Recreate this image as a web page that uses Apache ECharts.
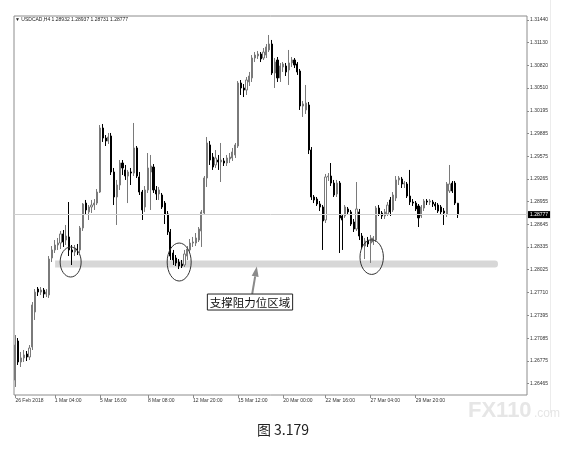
<!DOCTYPE html>
<html><head><meta charset="utf-8">
<script src="https://cdn.jsdelivr.net/npm/echarts@6/dist/echarts.min.js"></script>
<style>html,body{margin:0;padding:0;background:#fff}#c{width:587px;height:450px}</style>
</head><body><div id="c"></div>
<script>
const opens = [
1.26513,1.27047,1.26760,1.26815,1.26869,1.26828,1.26965,1.27444,1.27758,1.27717,
1.27745,1.27690,1.27677,1.28183,1.28293,1.28361,1.28388,1.28512,1.28429,1.28471,
1.28293,1.28265,1.28306,1.28293,1.28594,1.28935,1.28813,1.28881,1.28908,1.28935,
1.29086,1.29962,1.29825,1.29784,1.29853,1.29360,1.29018,1.29182,1.29483,1.29388,
1.29305,1.29360,1.29346,1.29689,1.29292,1.29086,1.28881,1.29114,1.29360,1.29428,
1.29114,1.29059,1.29045,1.28935,1.28785,1.28539,1.28251,1.28183,1.28128,1.28101,
1.28087,1.28210,1.28293,1.28388,1.28388,1.28429,1.28553,1.28799,1.29278,1.29730,
1.29565,1.29456,1.29524,1.29497,1.29511,1.29483,1.29538,1.29552,1.29593,1.29716,
1.30578,1.30510,1.30482,1.30592,1.30647,1.30920,1.30948,1.30975,1.30920,1.30961,
1.31030,1.31112,1.30715,1.30893,1.30647,1.30797,1.30811,1.30756,1.30852,1.30893,
1.30838,1.30742,1.30263,1.30209,1.30277,1.29661,1.29018,1.28990,1.28922,1.28881,
1.28703,1.29292,1.29305,1.29209,1.29059,1.29209,1.28758,1.28758,1.28854,1.28813,
1.28676,1.28580,1.28813,1.28484,1.28347,1.28429,1.28388,1.28402,1.28429,1.28867,
1.28799,1.28758,1.28785,1.28977,1.28840,1.29004,1.29251,1.29264,1.29196,1.29196,
1.29031,1.28949,1.28935,1.28895,1.28758,1.28867,1.28963,1.28949,1.28949,1.28922,
1.28908,1.28881,1.28826,1.28785,1.29100,1.29209,1.29209,1.28932];
const closes = [
1.26992,1.26760,1.26815,1.26856,1.26828,1.26951,1.27540,1.27717,1.27717,1.27745,
1.27690,1.27717,1.28169,1.28293,1.28361,1.28388,1.28512,1.28402,1.28484,1.28293,
1.28265,1.28320,1.28293,1.28594,1.28922,1.28840,1.28881,1.28908,1.28935,1.29086,
1.29962,1.29825,1.29784,1.29839,1.29360,1.29018,1.29182,1.29483,1.29415,1.29305,
1.29360,1.29346,1.29689,1.29305,1.29086,1.28840,1.29114,1.29415,1.29442,1.29114,
1.29059,1.29114,1.28881,1.28785,1.28539,1.28210,1.28156,1.28115,1.28074,1.28074,
1.28238,1.28306,1.28388,1.28402,1.28457,1.28580,1.28813,1.29278,1.29757,1.29524,
1.29428,1.29552,1.29497,1.29524,1.29483,1.29552,1.29565,1.29634,1.29730,1.30578,
1.30510,1.30482,1.30619,1.30674,1.30920,1.30961,1.30975,1.30907,1.31002,1.31071,
1.31112,1.30715,1.30865,1.30647,1.30811,1.30838,1.30729,1.30852,1.30893,1.30824,
1.30729,1.30263,1.30291,1.30304,1.29661,1.29018,1.28977,1.28922,1.28881,1.28690,
1.29292,1.29305,1.29209,1.29045,1.29209,1.28731,1.28703,1.28881,1.28813,1.28648,
1.28580,1.28854,1.28484,1.28347,1.28416,1.28375,1.28457,1.28457,1.28867,1.28785,
1.28758,1.28813,1.28908,1.28813,1.29045,1.29251,1.29278,1.29196,1.29209,1.29031,
1.28949,1.28935,1.28854,1.28731,1.28881,1.28963,1.28949,1.28963,1.28922,1.28895,
1.28826,1.28813,1.28799,1.29196,1.29196,1.29100,1.28935,1.28777];
const lows = [
1.26418,1.26719,1.26691,1.26760,1.26773,1.26787,1.26924,1.27335,1.27663,1.27677,
1.27636,1.27649,1.27636,1.28128,1.28251,1.28293,1.28306,1.28334,1.28361,1.28210,
1.28087,1.28210,1.28224,1.28251,1.28553,1.28785,1.28703,1.28799,1.28840,1.28908,
1.29073,1.29771,1.29716,1.29743,1.29319,1.28908,1.28635,1.29114,1.29319,1.29251,
1.28935,1.29182,1.29305,1.29278,1.29045,1.28703,1.28813,1.29073,1.28840,1.29073,
1.28977,1.28977,1.28854,1.28648,1.28498,1.28156,1.28087,1.28074,1.28032,1.28046,
1.28060,1.28156,1.28265,1.28334,1.28347,1.28402,1.28334,1.28772,1.29155,1.29456,
1.29388,1.29415,1.29388,1.29223,1.29442,1.29442,1.29483,1.29511,1.29552,1.29689,
1.30414,1.30386,1.30414,1.30537,1.30592,1.30865,1.30907,1.30865,1.30893,1.30920,
1.31002,1.30688,1.30510,1.30592,1.30592,1.30729,1.30674,1.30551,1.30797,1.30783,
1.30688,1.30209,1.30113,1.30154,1.29606,1.28977,1.28935,1.28895,1.28826,1.28293,
1.28662,1.29237,1.29168,1.29018,1.29018,1.28251,1.28293,1.28731,1.28772,1.28621,
1.28539,1.28553,1.28429,1.28306,1.28169,1.28334,1.28115,1.28361,1.28402,1.28758,
1.28717,1.28717,1.28758,1.28758,1.28813,1.28963,1.29182,1.29141,1.29141,1.29004,
1.28908,1.28895,1.28826,1.28607,1.28731,1.28826,1.28908,1.28908,1.28881,1.28840,
1.28799,1.28772,1.28635,1.28744,1.29073,1.29073,1.28908,1.28731];
const highs = [
1.27129,1.27088,1.26897,1.26924,1.26910,1.26992,1.27581,1.27758,1.27786,1.27786,
1.27772,1.27758,1.28210,1.28347,1.28429,1.28457,1.28553,1.28566,1.28635,1.28949,
1.28361,1.28361,1.28375,1.28621,1.28935,1.28977,1.28908,1.28977,1.28990,1.29127,
1.30003,1.30017,1.29866,1.29894,1.29894,1.29415,1.29251,1.29524,1.29524,1.29456,
1.29388,1.29415,1.30031,1.29716,1.29360,1.29114,1.29168,1.29620,1.29593,1.29469,
1.29168,1.29155,1.29073,1.28963,1.28826,1.28580,1.28293,1.28224,1.28169,1.28156,
1.28293,1.28347,1.28443,1.28471,1.28525,1.28607,1.28840,1.29305,1.29839,1.29784,
1.29620,1.29661,1.29593,1.29757,1.29552,1.29593,1.29620,1.29689,1.29757,1.30605,
1.30619,1.30564,1.30660,1.30729,1.30961,1.31002,1.31016,1.31002,1.31057,1.31112,
1.31235,1.31167,1.30920,1.30934,1.30852,1.30865,1.30852,1.31030,1.30934,1.30920,
1.30865,1.30770,1.30332,1.30551,1.30318,1.29702,1.29045,1.29018,1.28963,1.28908,
1.29333,1.29346,1.29483,1.29251,1.29251,1.29237,1.28785,1.28908,1.28881,1.28840,
1.28717,1.29223,1.28854,1.28525,1.28457,1.28471,1.28498,1.28484,1.28895,1.28908,
1.28826,1.28854,1.28949,1.29018,1.29086,1.29305,1.29305,1.29292,1.29237,1.29223,
1.29388,1.28990,1.28963,1.28922,1.28908,1.28990,1.28990,1.28990,1.28977,1.28949,
1.28935,1.28908,1.28867,1.29223,1.29456,1.29237,1.29237,1.28937];

const slotCount = 182;
const tickIndex = [0,14,30,47,63,79,95,110,126,142];
const tickText = ['26 Feb 2018','1 Mar 04:00','5 Mar 16:00','8 Mar 08:00','12 Mar 20:00','15 Mar 12:00','20 Mar 00:00','22 Mar 16:00','27 Mar 04:00','29 Mar 20:00'];
const yTicks = [1.31440,1.31130,1.30820,1.30510,1.30195,1.29885,1.29575,1.29265,1.28955,1.28645,1.28335,1.28025,1.27710,1.27395,1.27085,1.26775,1.26465];
const lastPrice = 1.28777;
const titleText = '\u25BC USDCAD,H4 1.28932 1.28937 1.28731 1.28777';
const captionText = '图 3.179';
const zoneText = '支撑阻力位区域';
const watermarkMain = 'FX110';
const watermarkSub = '.com';

const categories = Array.from({length: slotCount}, (_, i) => String(i));
const candles = opens.map((o, i) => [o, closes[i], lows[i], highs[i]]);
const labelAt = {};
tickIndex.forEach((k, j) => { labelAt[k] = tickText[j]; });
const showAt = (i) => labelAt[i] !== undefined;
const small = {fontSize: 5, color: '#333', fontFamily: 'Liberation Sans, Arial, sans-serif'};

const chart = echarts.init(document.getElementById('c'), null, {renderer: 'canvas'});
chart.setOption({
  animation: false,
  grid: {left: 14, right: 60, top: 16, bottom: 55, show: true, borderColor: '#8c8c8c', borderWidth: 1, containLabel: false, outerBoundsMode: 'none'},
  xAxis: {
    type: 'category', data: categories, boundaryGap: true,
    axisLine: {show: false},
    axisTick: {show: true, alignWithLabel: true, interval: (i) => showAt(i), length: 3, lineStyle: {color: '#8c8c8c'}},
    axisLabel: Object.assign({interval: (i) => showAt(i), formatter: (v, i) => labelAt[i] || '', align: 'left', margin: 3}, small),
    splitLine: {show: false}
  },
  yAxis: {
    type: 'value', position: 'right', min: 1.26308, max: 1.31495,
    axisLine: {show: false},
    axisTick: {show: true, customValues: yTicks, length: 2, lineStyle: {color: '#8c8c8c'}},
    axisLabel: Object.assign({customValues: yTicks, formatter: (v) => v.toFixed(5), margin: 3}, small),
    splitLine: {show: false}
  },
  series: [{
    type: 'candlestick', data: candles, barWidth: 1.6, z: 3,
    itemStyle: {color: '#ffffff', color0: '#000000', borderColor: '#7a7a7a', borderColor0: '#000000', borderWidth: 1},
    markLine: {
      silent: true, precision: 5, symbol: ['none', 'none'], data: [{yAxis: lastPrice}],
      lineStyle: {color: '#cfcfcf', width: 1, type: 'solid'},
      label: {show: true, position: 'end', formatter: () => lastPrice.toFixed(5), backgroundColor: '#000', color: '#fff', fontSize: 5, padding: [1, 2], distance: 1, fontFamily: 'Liberation Sans, Arial, sans-serif'}
    }
  }]
});

// annotation anchors in data space (bar index, price)
const zone = {i0: 14.1, i1: 171.2, pTop: 1.28149, pBot: 1.28053};
const rings = [
  {i: 19.6, p: 1.28128, rx: 10.5, ry: 15},
  {i: 58.1, p: 1.28128, rx: 12, ry: 19},
  {i: 126.4, p: 1.28195, rx: 11.7, ry: 17.3}
];
const arrow = {iTail: 84.0, pTail: 1.27690, iTip: 85.65, pTip: 1.28067};
const box = {i0: 68.1, i1: 98.35, pTop: 1.27690, pBot: 1.27471};

const P = (i, p) => chart.convertToPixel({xAxisIndex: 0, yAxisIndex: 0}, [i, p]);
const xa = P(0, 1.3)[0], xb = P(1, 1.3)[0];
const X = (i) => xa + (xb - xa) * i;
const Y = (p) => P(0, p)[1];

const g = [];
g.push({type: 'rect', z: 1, shape: {x: X(zone.i0), y: Y(zone.pTop), width: X(zone.i1) - X(zone.i0), height: Y(zone.pBot) - Y(zone.pTop), r: [0, 3, 3, 0]}, style: {fill: '#d7d7d7'}, silent: true});
rings.forEach(r => g.push({type: 'ellipse', z: 10, shape: {cx: X(r.i), cy: Y(r.p), rx: r.rx, ry: r.ry}, style: {fill: 'none', stroke: '#333', lineWidth: 1}, silent: true}));
const tx = X(arrow.iTail), ty = Y(arrow.pTail), hx = X(arrow.iTip), hy = Y(arrow.pTip);
const len = Math.hypot(hx - tx, hy - ty), ux = (hx - tx) / len, uy = (hy - ty) / len;
const headL = 10, headW = 3.5;
const bx = hx - ux * headL, by = hy - uy * headL;
g.push({type: 'line', z: 10, shape: {x1: tx, y1: ty, x2: bx, y2: by}, style: {stroke: '#8a8a8a', lineWidth: 2}, silent: true});
g.push({type: 'polygon', z: 10, shape: {points: [[hx, hy], [bx - uy * headW, by + ux * headW], [bx + uy * headW, by - ux * headW]]}, style: {fill: '#8a8a8a'}, silent: true});
const bX0 = X(box.i0), bX1 = X(box.i1), bY0 = Y(box.pTop), bY1 = Y(box.pBot);
g.push({type: 'rect', z: 10, shape: {x: bX0, y: bY0, width: bX1 - bX0, height: bY1 - bY0}, style: {fill: '#fff', stroke: '#222', lineWidth: 1}, silent: true});
g.push({type: 'text', z: 11, style: {text: zoneText, x: (bX0 + bX1) / 2, y: (bY0 + bY1) / 2 + 0.5, textAlign: 'center', textVerticalAlign: 'middle', font: '11.5px "Noto Sans CJK SC"', fill: '#111'}, silent: true});
g.push({type: 'text', z: 11, style: {text: titleText, x: 15, y: 20, textAlign: 'left', textVerticalAlign: 'middle', font: '5px "Liberation Sans", "DejaVu Sans"', fill: '#222'}, silent: true});
g.push({type: 'text', z: 11, style: {text: captionText, x: 283, y: 430, textAlign: 'center', textVerticalAlign: 'middle', font: '14px "Noto Sans CJK SC"', fill: '#222'}, silent: true});
g.push({type: 'line', z: 0, shape: {x1: 550.5, y1: 0, x2: 550.5, y2: 413}, style: {stroke: '#ececec', lineWidth: 1}, silent: true});
g.push({type: 'text', z: 0, style: {text: watermarkMain, x: 468, y: 411, textAlign: 'left', textVerticalAlign: 'middle', font: 'bold 22px "Liberation Sans"', fill: '#e6e6e6'}, silent: true});
g.push({type: 'text', z: 0, style: {text: watermarkSub, x: 534, y: 414, textAlign: 'left', textVerticalAlign: 'middle', font: '12px "Liberation Sans"', fill: '#e6e6e6'}, silent: true});
chart.setOption({graphic: {elements: g}});
</script>
</body></html>
